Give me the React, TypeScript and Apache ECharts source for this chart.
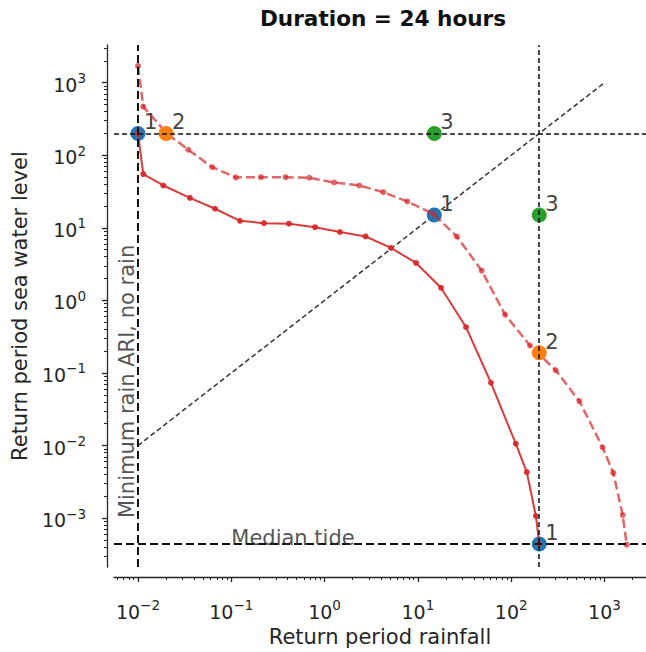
import React, { useEffect, useRef } from 'react';
import * as echarts from 'echarts';

// ---- data (real values, plotted on log10 scales) ----
const rainSolid = [0.01, 0.0114, 0.0187, 0.036, 0.067, 0.124, 0.224, 0.415, 0.79, 1.46, 2.75, 5.15, 9.55, 17.7, 32.8, 60.7, 112, 147, 184, 200];
const seaSolid = [200, 55, 38.3, 25.9, 18.3, 12.5, 11.6, 11.4, 10.2, 8.75, 7.6, 5.28, 3.28, 1.49, 0.427, 0.0733, 0.0106, 0.0043, 0.00107, 0.00044];
const rainDashed = [0.01, 0.0114, 0.0203, 0.0346, 0.0625, 0.112, 0.208, 0.383, 0.686, 1.27, 2.36, 4.26, 7.69, 14.6, 26.1, 48.3, 85.9, 159, 300, 537, 957, 1242, 1567, 1730];
const seaDashed = [1700, 468, 201, 119, 68.5, 49.5, 49.8, 49.8, 49.0, 42.1, 38.3, 31.0, 23.1, 15.6, 7.6, 2.57, 0.638, 0.239, 0.109, 0.041, 0.0094, 0.0042, 0.0011, 0.00043];

const pointsBlue = [[0.01, 200], [15, 15], [200, 0.00044]];
const pointsOrange = [[0.02, 200], [200, 0.19]];
const pointsGreen = [[15, 200], [200, 15]];

const designARI = 200;
const minRainARI = 0.01;
const medianTide = 0.00044;
const diagonal = [0.01, 1000];

const xTickExps = [-2, -1, 0, 1, 2, 3];
const yTickExps = [-3, -2, -1, 0, 1, 2, 3];
const xLogRange = [-2.257, 3.445];
const yLogRange = [-3.675, 3.519];

const titleText = 'Duration = 24 hours';
const xName = 'Return period rainfall';
const yName = 'Return period sea water level';
const medianLabel = 'Median tide';
const minRainLabel = 'Minimum rain ARI, no rain';

// ---- helpers ----
const L = Math.log10;
const FONT = 'DejaVu Sans';
const INK = '#262626';
const RED = '#d62728';

const pairs = (xs: number[], ys: number[]) => xs.map((x, i) => [L(x), L(ys[i])]);
const fmtExp = (v: number) => {
  const e = Math.round(v);
  return `{b|10}{s|${e < 0 ? '\u2212' + -e : e}}`;
};
const minorTicks = (lo: number, hi: number) => {
  const out: number[] = [];
  for (let k = Math.floor(lo); k <= Math.ceil(hi); k++) {
    for (let m = 2; m <= 9; m++) {
      const v = k + L(m);
      if (v >= lo && v <= hi) out.push(v);
    }
  }
  return out;
};

const rich = {
  b: { fontSize: 19, lineHeight: 23, verticalAlign: 'bottom', color: INK, fontFamily: FONT },
  s: { fontSize: 13.5, verticalAlign: 'top', color: INK, fontFamily: FONT },
};

const majorAxis = (range: number[], exps: number[], offset: number, margin: number, name: string, nameGap: number) => ({
  type: 'value',
  min: range[0],
  max: range[1],
  offset,
  splitLine: { show: false },
  axisLine: { show: true, onZero: false, lineStyle: { color: INK, width: 1.3 } },
  axisTick: { show: true, customValues: exps, length: 5, lineStyle: { color: INK, width: 1.3 } },
  axisLabel: { show: true, customValues: exps, formatter: fmtExp, rich, margin },
  name,
  nameLocation: 'middle',
  nameGap,
  nameTextStyle: { fontSize: 21, color: INK, fontFamily: FONT },
});

const minorAxis = (range: number[], offset: number) => ({
  type: 'value',
  min: range[0],
  max: range[1],
  offset,
  splitLine: { show: false },
  axisLine: { show: false, onZero: false },
  axisTick: { show: true, customValues: minorTicks(range[0], range[1]), length: 3, lineStyle: { color: INK, width: 1 } },
  axisLabel: { show: false },
});

const pointSeries = (pts: number[][], color: string, label: string, z: number) => ({
  type: 'scatter',
  data: pts.map(([x, y]) => [L(x), L(y)]),
  symbolSize: 15,
  itemStyle: { color, opacity: 1 },
  z,
  silent: true,
  label: {
    show: true,
    formatter: label,
    position: 'inside',
    align: 'left',
    verticalAlign: 'middle',
    offset: [6, -11],
    color: '#444',
    fontSize: 21,
    fontFamily: FONT,
  },
  emphasis: { disabled: true },
});

export default function App() {
  const ref = useRef<HTMLDivElement>(null);
  useEffect(() => {
    if (!ref.current) return;
    const chart = echarts.init(ref.current, undefined, { renderer: 'svg' });
    const option: any = {
      animation: false,
      textStyle: { fontFamily: FONT },
      graphic: [
        {
          type: 'text',
          x: 383,
          y: 18,
          style: {
            text: titleText,
            fill: '#111',
            font: `bold 21.6px "${FONT}"`,
            textAlign: 'center',
            textVerticalAlign: 'middle',
            align: 'center',
            verticalAlign: 'middle',
          },
        },
      ],
      grid: { left: 114, top: 45, width: 532, height: 523, containLabel: false },
      xAxis: [
        { ...majorAxis(xLogRange, xTickExps, 10, 21, xName, 46), position: 'bottom' },
        { ...minorAxis(xLogRange, 10), position: 'bottom' },
      ],
      yAxis: [
        { ...majorAxis(yLogRange, yTickExps, 7, 21, yName, 77), position: 'left' },
        { ...minorAxis(yLogRange, 7), position: 'left' },
      ],
      series: [
        {
          type: 'line',
          data: pairs(diagonal, diagonal),
          symbol: 'none',
          lineStyle: { color: '#333', width: 1.5, type: [5, 3] },
          z: 1,
          silent: true,
          emphasis: { disabled: true },
          markLine: {
            silent: true,
            symbol: ['none', 'none'],
            label: { show: false },
            emphasis: { disabled: true },
            data: [
              { xAxis: L(minRainARI), lineStyle: { color: '#111', width: 2, type: [8, 4] } },
              { yAxis: L(medianTide), lineStyle: { color: '#111', width: 2, type: [8, 4] } },
              { xAxis: L(designARI), lineStyle: { color: '#111', width: 1.5, type: [5, 3] } },
              { yAxis: L(designARI), lineStyle: { color: '#111', width: 1.5, type: [5, 3] } },
            ],
          },
        },
        pointSeries(pointsBlue, '#1f77b4', '1', 2),
        {
          type: 'line',
          data: pairs(rainSolid, seaSolid),
          symbol: 'circle',
          symbolSize: 6,
          showSymbol: true,
          itemStyle: { color: RED, opacity: 0.9 },
          lineStyle: { color: RED, width: 2, opacity: 0.9 },
          z: 3,
          silent: true,
          emphasis: { disabled: true },
        },
        {
          type: 'line',
          data: pairs(rainDashed, seaDashed),
          symbol: 'circle',
          symbolSize: 6,
          showSymbol: true,
          itemStyle: { color: RED, opacity: 0.7 },
          lineStyle: { color: RED, width: 2.5, opacity: 0.7, type: [9, 4] },
          z: 3,
          silent: true,
          emphasis: { disabled: true },
        },
        pointSeries(pointsOrange, '#ff7f0e', '2', 4),
        pointSeries(pointsGreen, '#2ca02c', '3', 4),
        {
          type: 'scatter',
          symbolSize: 0,
          z: 5,
          silent: true,
          emphasis: { disabled: true },
          data: [
            {
              value: [L(0.1), L(medianTide)],
              label: {
                show: true,
                formatter: medianLabel,
                position: 'inside',
                align: 'left',
                verticalAlign: 'bottom',
                offset: [0, 5],
                color: INK,
                fontSize: 21,
                fontFamily: FONT,
              },
            },
            {
              value: [L(minRainARI), L(0.001)],
              label: {
                show: true,
                formatter: minRainLabel,
                position: 'inside',
                align: 'left',
                verticalAlign: 'bottom',
                rotate: 90,
                offset: [0, 0],
                color: INK,
                fontSize: 21,
                fontFamily: FONT,
              },
            },
          ],
        },
      ],
    };
    chart.setOption(option);
    return () => chart.dispose();
  }, []);
  return <div ref={ref} style={{ position: 'absolute', left: 0, top: 0, width: 646, height: 652 }} />;
}
